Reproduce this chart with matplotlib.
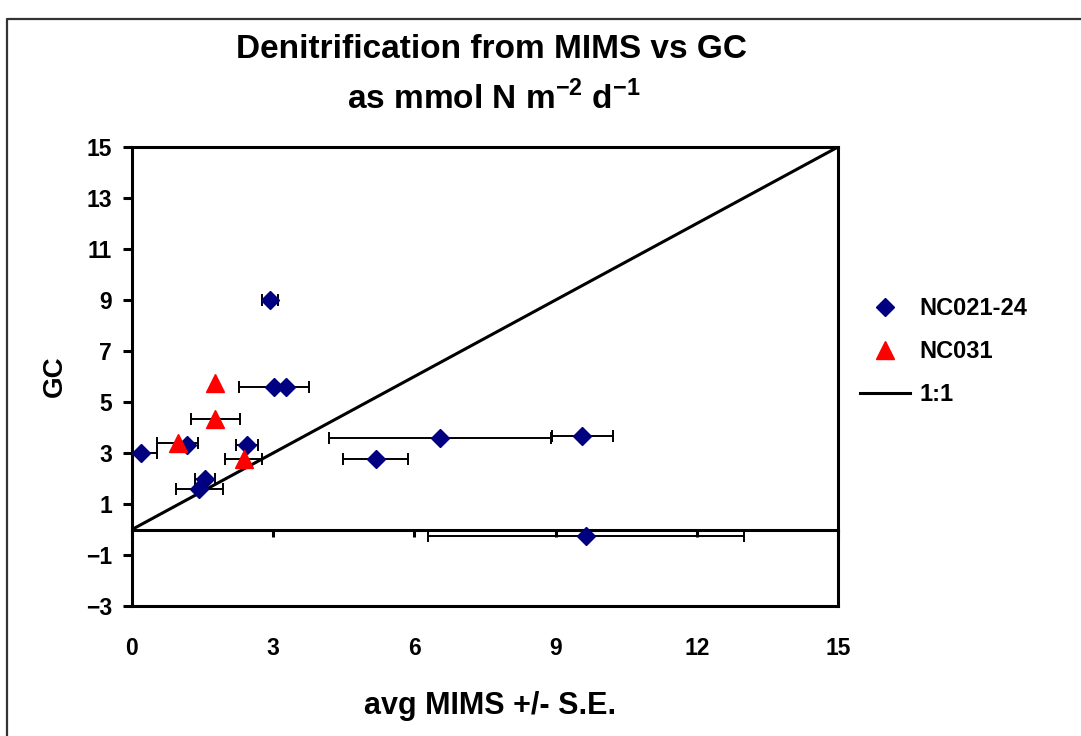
import matplotlib.pyplot as plt
from matplotlib.lines import Line2D

plt.rcParams['font.family'] = ['Liberation Sans', 'DejaVu Sans']
plt.rcParams['font.weight'] = 'bold'
plt.rcParams['mathtext.fontset'] = 'custom'
plt.rcParams['mathtext.rm'] = 'Liberation Sans:bold'
plt.rcParams['mathtext.bf'] = 'Liberation Sans:bold'

# NC021-24 (blue diamonds): avg MIMS, GC, S.E. of MIMS
nc021_x = [0.19, 1.16, 2.93, 3.02, 3.27, 2.44, 1.55, 1.43, 6.54, 9.57, 5.18, 9.64]
nc021_y = [3.0, 3.3, 9.0, 5.6, 5.6, 3.3, 2.0, 1.6, 3.6, 3.65, 2.77, -0.27]
nc021_se = [0.35, 0.0, 0.17, 0.74, 0.0, 0.24, 0.22, 0.5, 2.36, 0.64, 0.69, 3.36]

# NC031 (red triangles)
nc031_x = [0.97, 2.37, 1.77, 1.77]
nc031_y = [3.4, 2.76, 5.73, 4.34]
nc031_se = [0.43, 0.39, 0.0, 0.52]

line_x = [0, 15]
line_y = [0, 15]

x_ticks = [0, 3, 6, 9, 12, 15]
y_ticks = [-3, -1, 1, 3, 5, 7, 9, 11, 13, 15]

fig = plt.figure(figsize=(10.81, 7.36), dpi=100)
ax = fig.add_axes([132 / 1081, 1 - 606 / 736, 706 / 1081, 459 / 736])

ax.plot(line_x, line_y, color='black', lw=2.2, zorder=2, label='1:1')
ax.errorbar(nc021_x, nc021_y, xerr=nc021_se, fmt='none', ecolor='black',
            elinewidth=1.4, capsize=4.3, capthick=1.4, zorder=3)
ax.errorbar(nc031_x, nc031_y, xerr=nc031_se, fmt='none', ecolor='black',
            elinewidth=1.4, capsize=4.3, capthick=1.4, zorder=3)
ax.plot(nc021_x, nc021_y, ls='none', marker='D', ms=9.5, color='#000080',
        mec='#000080', zorder=4, label='NC021-24')
ax.plot(nc031_x, nc031_y, ls='none', marker='^', ms=13, color='#ff0000',
        mec='#ff0000', zorder=4, label='NC031')

ax.set_xlim(0, 15)
ax.set_ylim(-3, 15)
ax.set_yticks(y_ticks)
ax.set_xticks(x_ticks)

for sp in ax.spines.values():
    sp.set_linewidth(2.2)
ax.spines['bottom'].set_position(('data', 0))
ax.tick_params(axis='x', direction='out', length=5, width=2.2, labelbottom=False)
ax.tick_params(axis='y', direction='out', length=6.5, width=2.2, pad=8,
               labelsize=16.5)

sec = ax.secondary_xaxis('bottom')
sec.set_xticks(x_ticks)
sec.spines['bottom'].set_linewidth(2.2)
sec.tick_params(length=0, pad=22, labelsize=16.5)

fig.text(491 / 1081, 1 - 50 / 736, 'Denitrification from MIMS vs GC',
         ha='center', va='center', fontsize=24, fontweight='bold')
fig.text(494 / 1081, 1 - 98 / 736, r'as mmol N m$^{\mathbf{-2}}$ d$^{\mathbf{-1}}$',
         ha='center', va='center', fontsize=24, fontweight='bold')
fig.text(490 / 1081, 1 - 706 / 736, 'avg MIMS +/- S.E.',
         ha='center', va='center', fontsize=22, fontweight='bold')
fig.text(55 / 1081, 1 - 376 / 736, 'GC', rotation=90,
         ha='center', va='center', fontsize=20, fontweight='bold')

h, l = ax.get_legend_handles_labels()
order = [1, 2, 0]
fig.legend([h[i] for i in order], [l[i] for i in order], loc='upper left',
           bbox_to_anchor=(860 / 1081, 1 - 297 / 736), frameon=False,
           fontsize=17, handlelength=2.1, handletextpad=0.4,
           labelspacing=0.85, borderpad=0, borderaxespad=0)

# outer chart-area border
fig.add_artist(Line2D([7 / 1081, 7 / 1081, 1], [0, 1 - 19 / 736, 1 - 19 / 736],
                      transform=fig.transFigure, color='#333333', lw=1.6))

fig.savefig('out.png', dpi=100)
